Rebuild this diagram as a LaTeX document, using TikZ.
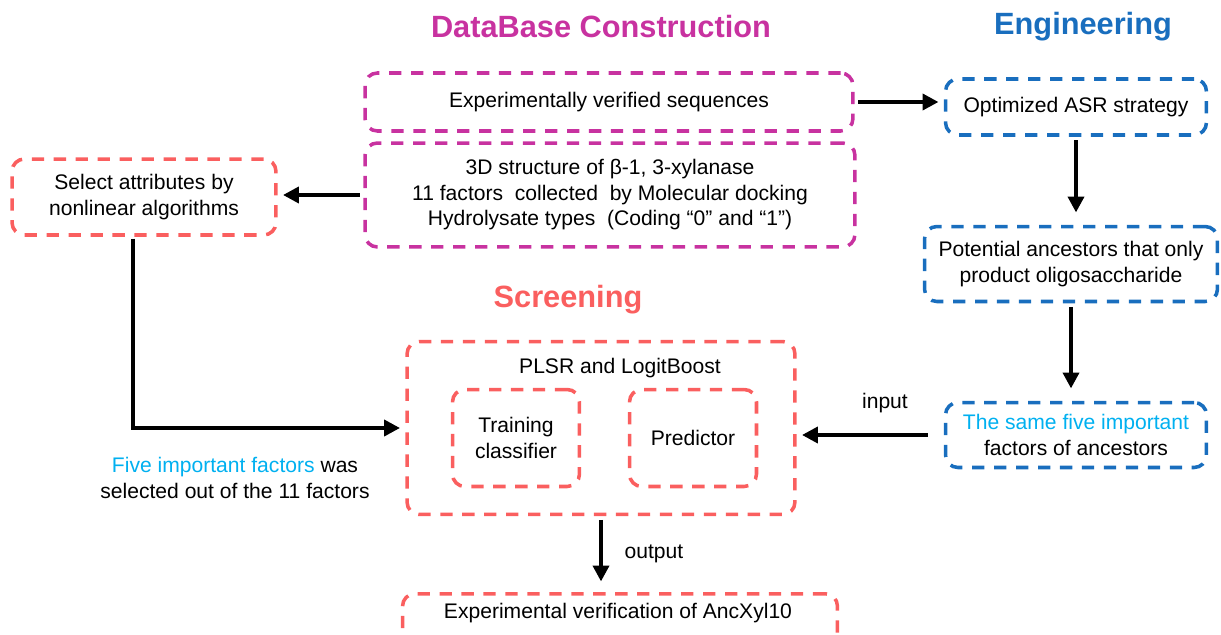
\documentclass[tikz,border=0pt]{standalone}
\usepackage{fontspec}
\setmainfont{Liberation Sans}
\usetikzlibrary{arrows.meta,positioning}
\definecolor{dbcolor}{RGB}{200,50,160}
\definecolor{engcolor}{RGB}{25,110,190}
\definecolor{scrcolor}{RGB}{250,95,95}
\definecolor{keycolor}{RGB}{0,176,240}

\begin{document}
\begin{tikzpicture}[x=0.02cm, y=-0.02cm,
    font=\fontsize{12}{14.5}\selectfont,
    box/.style={draw, dash pattern=on 7pt off 5.5pt, line width=2pt,
      rounded corners=7pt, align=center, inner sep=0pt},
    flow/.style={-{Triangle[length=9pt,width=9pt]}, line width=2.2pt,
      shorten <=2pt, shorten >=3pt},
    heading/.style={font=\fontsize{17.5}{20}\selectfont\bfseries}]
    \useasboundingbox (0,0) rectangle (1221,635);
    \clip (0,0) rectangle (1221,635);

    % Headings
    \node[heading, dbcolor] (dbtitle) at (601,27) {DataBase Construction};
    \node[heading, engcolor] (engtitle) at (1083,27) {Engineering};
    \node[heading, scrcolor] (scrtitle) at (568,300) {Screening};

    % Database boxes
    \node[box, dbcolor, minimum width=9.76cm, minimum height=1.16cm] (seqs)
      at (609,102) {\color{black}Experimentally verified sequences};
    \node[box, dbcolor, minimum width=9.8cm, minimum height=2.08cm] (struct)
      at (610,195) {\color{black}3D structure of β-1, 3-xylanase\\
      \color{black}11 factors\ \ collected\ \ by Molecular docking\\
      \color{black}Hydrolysate types\ \ (Coding “0”\ and “1”)};
    \node[box, scrcolor, minimum width=5.28cm, minimum height=1.52cm] (select)
      at (144,197) {\color{black}Select attributes by\\\color{black}nonlinear algorithms};

    % Engineering boxes
    \node[box, engcolor, minimum width=5.22cm, minimum height=1.12cm] (asr)
      at (1076,107) {\color{black}Optimized ASR strategy};
    \node[box, engcolor, minimum width=5.86cm, minimum height=1.5cm] (ances)
      at (1071,264) {\color{black}Potential ancestors that only\\\color{black}product oligosaccharide};
    \node[box, engcolor, minimum width=5.22cm, minimum height=1.3cm] (same)
      at (1076,435) {\textcolor{keycolor}{The same five important}\\\color{black}factors of ancestors};

    % Screening boxes
    \node[box, scrcolor, minimum width=7.76cm, minimum height=3.46cm] (plsr)
      at (601,428) {};
    \node (plsrlabel) at (620,368) {PLSR and LogitBoost};
    \node[box, scrcolor, minimum width=2.54cm, minimum height=1.94cm] (train)
      at (516,438) {\color{black}Training\\\color{black}classifier};
    \node[box, scrcolor, minimum width=2.54cm, minimum height=1.94cm] (pred)
      at (693,438) {\color{black}Predictor};
    \node[box, scrcolor, minimum width=8.7cm, minimum height=1.2cm, anchor=north] (verify)
      at (620,592) {};
    \node (verifylabel) at (618,613) {Experimental verification of AncXyl10};

    % Arrows
    \draw[flow] (seqs.east) -- (seqs.east -| asr.west);
    \draw[flow] (struct) -- (struct -| select.east);
    \draw[flow, shorten >=7pt] (asr.south) -- (asr.south |- ances.north);
    \draw[flow, shorten >=7pt] (ances.south) -- (ances.south |- same.north);
    \draw[flow, shorten <=9pt] (same.west) -- (same.west -| plsr.east)
      node[pos=0.4, above=8pt] {input};
    \draw[flow, shorten >=6pt] (plsr.south) -- (plsr.south |- verify.north)
      node[midway, right=9pt] {output};
    \draw[flow, shorten <=1pt] ([xshift=-0.22cm]select.south) |- (plsr.west);

    % Note under the left arrow
    \node[align=center] (note) at (235,478)
      {\textcolor{keycolor}{Five important factors} was\\selected out of the 11 factors};
\end{tikzpicture}
\end{document}
